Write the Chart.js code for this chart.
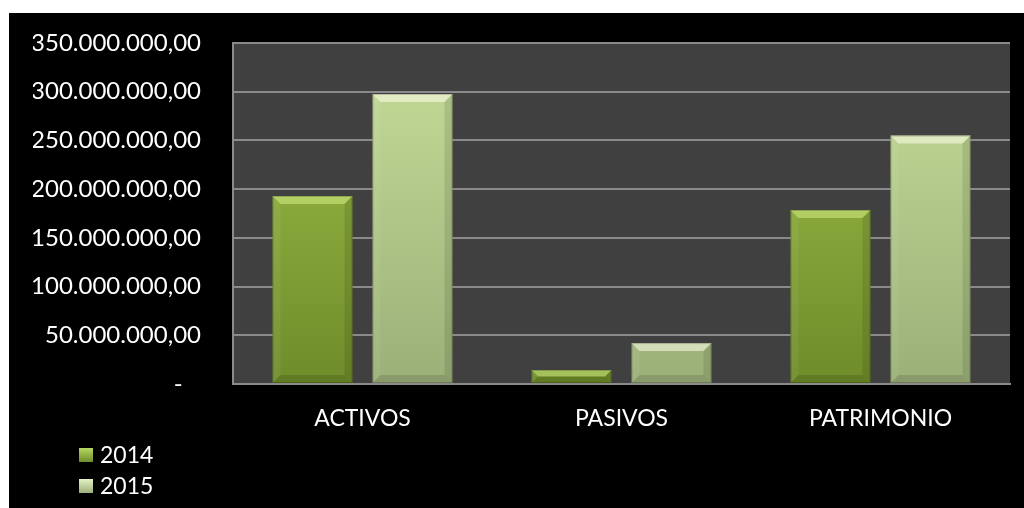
<!DOCTYPE html>
<html>
<head>
<meta charset="utf-8">
<script src="https://cdn.jsdelivr.net/npm/chart.js@4.4.1/dist/chart.umd.min.js"></script>
<style>
  html, body { margin: 0; padding: 0; background: #ffffff; width: 1024px; height: 508px; overflow: hidden; }
  #wrap { position: absolute; left: 9px; top: 13px; width: 1015px; height: 495px; background: #000000; }
  #c { position: absolute; left: 0; top: 0; }
  #legend { position: absolute; left: 70px; top: 427px; font-family: Lato, "Open Sans", sans-serif; font-size: 23px; color: #ffffff; }
  .item { position: absolute; left: 0; height: 28px; white-space: nowrap; }
  .box { position: absolute; left: 0; top: 8px; width: 14px; height: 14px; }
  .lbl { position: absolute; left: 21px; top: 0; line-height: 28px; }
</style>
</head>
<body>
<div id="wrap">
  <canvas id="c" width="1015" height="495"></canvas>
  <div id="legend"></div>
</div>
<script>
const categories = ["ACTIVOS", "PASIVOS", "PATRIMONIO"];
const seriesLabels = ["2014", "2015"];
const values2014 = [193000000, 14400000, 178600000];
const values2015 = [297600000, 42000000, 255000000];
const yTicks = [0, 50000000, 100000000, 150000000, 200000000, 250000000, 300000000, 350000000];

const palette = [
  { top: "#9fc14a", bottom: "#6e8c2a", bevel: "rgba(230,255,150,0.45)" },
  { top: "#c6dd98", bottom: "#9bb078", bevel: "rgba(255,255,235,0.55)" }
];

function fmt(v) {
  if (v === 0) return "-   ";
  const s = Math.round(v).toString().replace(/\B(?=(\d{3})+(?!\d))/g, ".");
  return s + ",00";
}

function barGradient(ctx, idx) {
  const chart = ctx.chart;
  const area = chart.chartArea;
  if (!area) return palette[idx].top;
  const el = ctx.element;
  let top = area.top, bottom = area.bottom;
  if (el && el.y !== undefined && !isNaN(el.y)) { top = el.y; bottom = el.base; }
  if (!isFinite(top) || !isFinite(bottom) || top === bottom) return palette[idx].top;
  const g = chart.ctx.createLinearGradient(0, top, 0, bottom);
  g.addColorStop(0, palette[idx].top);
  g.addColorStop(1, palette[idx].bottom);
  return g;
}

const plotBg = {
  id: "plotBg",
  beforeDraw(chart) {
    const { ctx, chartArea: a } = chart;
    ctx.save();
    ctx.fillStyle = "#404040";
    ctx.fillRect(a.left, a.top, a.right - a.left, a.bottom - a.top);
    ctx.restore();
  }
};

const bevel = {
  id: "bevel",
  afterDatasetsDraw(chart) {
    const ctx = chart.ctx;
    chart.data.datasets.forEach((ds, di) => {
      const meta = chart.getDatasetMeta(di);
      meta.data.forEach(el => {
        const p = el.getProps(["x", "y", "base", "width"], true);
        const L = p.x - p.width / 2, R = p.x + p.width / 2, T = p.y, B = p.base;
        const h = B - T;
        const s = Math.min(8, h / 2);
        ctx.save();
        ctx.beginPath();
        ctx.moveTo(L, T); ctx.lineTo(R, T); ctx.lineTo(R - s, T + s); ctx.lineTo(L + s, T + s); ctx.closePath();
        ctx.fillStyle = palette[di].bevel; ctx.fill();
        ctx.beginPath();
        ctx.moveTo(L, T); ctx.lineTo(L + s, T + s); ctx.lineTo(L + s, B - s); ctx.lineTo(L, B); ctx.closePath();
        ctx.fillStyle = "rgba(255,255,255,0.06)"; ctx.fill();
        ctx.beginPath();
        ctx.moveTo(R, T); ctx.lineTo(R - s, T + s); ctx.lineTo(R - s, B - s); ctx.lineTo(R, B); ctx.closePath();
        ctx.fillStyle = "rgba(0,0,0,0.10)"; ctx.fill();
        ctx.beginPath();
        ctx.moveTo(L, B); ctx.lineTo(L + s, B - s); ctx.lineTo(R - s, B - s); ctx.lineTo(R, B); ctx.closePath();
        ctx.fillStyle = "rgba(0,0,0,0.12)"; ctx.fill();
        ctx.strokeStyle = "rgba(0,0,0,0.2)"; ctx.lineWidth = 1;
        ctx.strokeRect(L + 0.5, T + 0.5, R - L - 1, h - 1);
        ctx.restore();
      });
    });
  }
};

const chart = new Chart(document.getElementById("c"), {
  type: "bar",
  data: {
    labels: categories,
    datasets: [
      { label: seriesLabels[0], data: values2014, backgroundColor: c => barGradient(c, 0), borderWidth: 0 },
      { label: seriesLabels[1], data: values2015, backgroundColor: c => barGradient(c, 1), borderWidth: 0 }
    ]
  },
  options: {
    responsive: false,
    animation: false,
    devicePixelRatio: 1,
    layout: { padding: { left: 24, top: 30, right: 14, bottom: 0 } },
    datasets: { bar: { categoryPercentage: 0.772, barPercentage: 0.8 } },
    plugins: {
      legend: { display: false },
      tooltip: { enabled: false }
    },
    scales: {
      x: {
        grid: { display: false, drawTicks: false },
        border: { display: true, color: "#8a8a8a", width: 2 },
        ticks: { color: "#ffffff", font: { family: "Lato", size: 23 }, padding: 21, maxRotation: 0 },
        afterFit(scale) { scale.height = 124; }
      },
      y: {
        min: 0, max: 350000000,
        afterBuildTicks(scale) { scale.ticks = yTicks.map(v => ({ value: v })); },
        grid: { color: "#8a8a8a", lineWidth: 2, drawTicks: false },
        border: { display: true, color: "#8a8a8a", width: 2 },
        ticks: { color: "#ffffff", font: { family: "Lato", size: 24 }, padding: 32, callback: v => fmt(v) },
        afterFit(scale) { scale.width = 200; scale.paddingTop = 0; scale.paddingBottom = 0; }
      }
    }
  },
  plugins: [plotBg, bevel]
});

const legend = document.getElementById("legend");
const legendGrad = [
  "linear-gradient(#b8d860, #6e8c2a)",
  "linear-gradient(#e6f2c6, #9bb078)"
];
chart.data.datasets.forEach((ds, i) => {
  const it = document.createElement("div");
  it.className = "item";
  it.style.top = (i * 31) + "px";
  const b = document.createElement("div");
  b.className = "box";
  b.style.background = legendGrad[i];
  const t = document.createElement("div");
  t.className = "lbl";
  t.textContent = ds.label;
  it.appendChild(b); it.appendChild(t);
  legend.appendChild(it);
});
</script>
</body>
</html>
